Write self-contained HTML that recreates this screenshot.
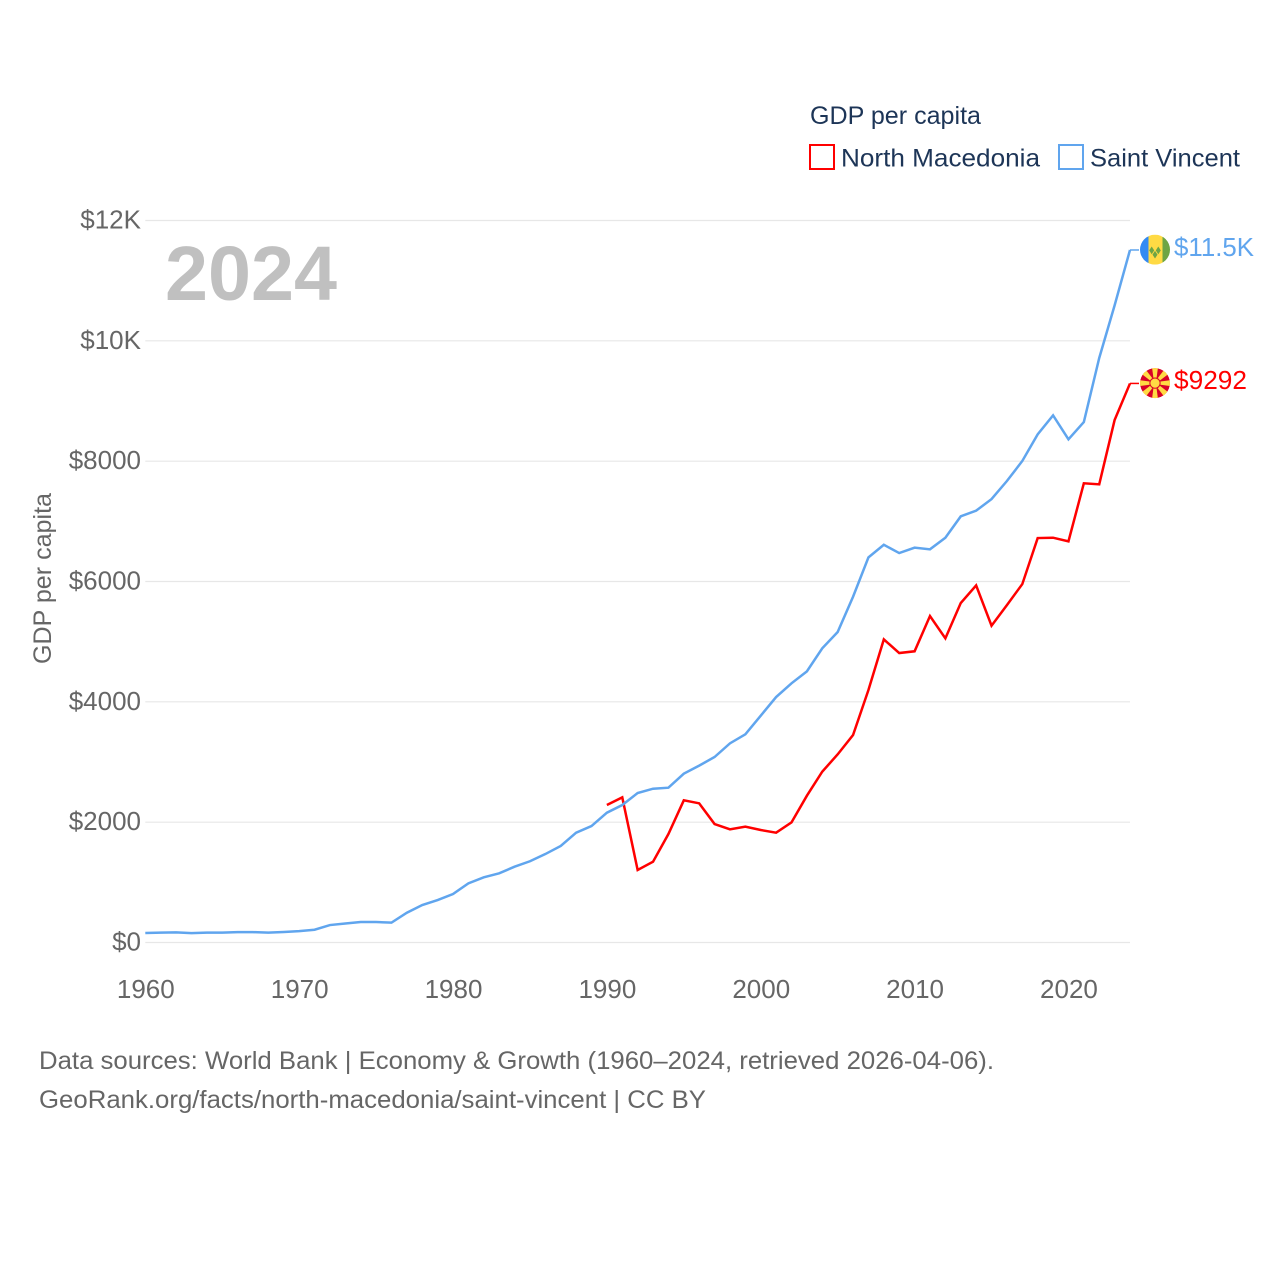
<!DOCTYPE html>
<html lang="en">
<head>
<meta charset="utf-8">
<title>GDP per capita: North Macedonia and Saint Vincent</title>
<style>
  html, body { margin: 0; padding: 0; background: #fff; }
  svg { display: block; font-family: "Liberation Sans", sans-serif; }
</style>
</head>
<body>
<svg id="chart" xmlns="http://www.w3.org/2000/svg" width="1280" height="1280" viewBox="0 0 1280 1280">
  <rect width="1280" height="1280" fill="#fff"/>

  <g id="grid"></g>
  <g id="y-ticks"></g>
  <g id="x-ticks"></g>

  <text transform="translate(51 578.5) rotate(-90)" font-size="25" fill="#666" text-anchor="middle" textLength="171" lengthAdjust="spacingAndGlyphs">GDP per capita</text>

  <text x="165" y="300" font-size="77" font-weight="bold" fill="#c0c0c0" textLength="172" lengthAdjust="spacingAndGlyphs">2024</text>

  <g id="series"></g>

  <g>
    <text x="810" y="124" font-size="25" fill="#1d3557" textLength="171" lengthAdjust="spacingAndGlyphs">GDP per capita</text>
    <g>
      <rect x="810" y="145" width="24" height="24" fill="#fff" stroke="#ff0000" stroke-width="2"/>
      <text x="841" y="166.5" font-size="25" fill="#1d3557" textLength="199" lengthAdjust="spacingAndGlyphs">North Macedonia</text>
    </g>
    <g>
      <rect x="1059" y="145" width="24" height="24" fill="#fff" stroke="#60a5ee" stroke-width="2"/>
      <text x="1090" y="166.5" font-size="25" fill="#1d3557" textLength="150" lengthAdjust="spacingAndGlyphs">Saint Vincent</text>
    </g>
  </g>

  <defs>
    <clipPath id="flag-clip"><circle cx="0" cy="0" r="15"/></clipPath>
  </defs>

  <g id="flag-vc">
    <g clip-path="url(#flag-clip)">
      <rect x="-15" y="-15" width="8.5" height="30" fill="#338af3"/>
      <rect x="-6.5" y="-15" width="14" height="30" fill="#ffda44"/>
      <rect x="7.5" y="-15" width="8" height="30" fill="#6da544"/>
      <polygon points="-3.3,-3.2 -0.8,0.7 -3.3,4.6 -5.8,0.7" fill="#6da544"/>
      <polygon points="3.3,-3.2 5.8,0.7 3.3,4.6 0.8,0.7" fill="#6da544"/>
      <polygon points="0,1.2 2.5,5 0,8.8 -2.5,5" fill="#6da544"/>
    </g>
  </g>

  <g id="flag-mk">
    <g clip-path="url(#flag-clip)">
      <circle r="15" fill="#d80027"/>
      <g fill="#ffda44">
        <polygon points="-3,-16 3,-16 0.9,0 -0.9,0"/>
        <polygon points="-3,-16 3,-16 0.9,0 -0.9,0" transform="rotate(45)"/>
        <polygon points="-3,-16 3,-16 0.9,0 -0.9,0" transform="rotate(90)"/>
        <polygon points="-3,-16 3,-16 0.9,0 -0.9,0" transform="rotate(135)"/>
        <polygon points="-3,-16 3,-16 0.9,0 -0.9,0" transform="rotate(180)"/>
        <polygon points="-3,-16 3,-16 0.9,0 -0.9,0" transform="rotate(225)"/>
        <polygon points="-3,-16 3,-16 0.9,0 -0.9,0" transform="rotate(270)"/>
        <polygon points="-3,-16 3,-16 0.9,0 -0.9,0" transform="rotate(315)"/>
      </g>
      <circle r="5.6" fill="#d80027"/>
      <circle r="4.6" fill="#ffda44"/>
    </g>
  </g>

  <text id="label-vc" x="1174" font-size="26" fill="#60a5ee" textLength="80" lengthAdjust="spacingAndGlyphs">$11.5K</text>
  <text id="label-mk" x="1174" font-size="26" fill="#ff0000" textLength="73" lengthAdjust="spacingAndGlyphs">$9292</text>

  <g>
    <text x="39" y="1069" font-size="25" fill="#666" textLength="955" lengthAdjust="spacingAndGlyphs">Data sources: World Bank | Economy &amp; Growth (1960–2024, retrieved 2026-04-06).</text>
    <text x="39" y="1108" font-size="25" fill="#666" textLength="667" lengthAdjust="spacingAndGlyphs">GeoRank.org/facts/north-macedonia/saint-vincent | CC BY</text>
  </g>
</svg>

<script>
const yTickValues = [0, 2000, 4000, 6000, 8000, 10000, 12000];
const yTickLabels = ["$0", "$2000", "$4000", "$6000", "$8000", "$10K", "$12K"];
const xTickYears = [1960, 1970, 1980, 1990, 2000, 2010, 2020];

const vincentStartYear = 1960;
const vincentValues = [
  158, 165, 168, 155, 165, 165, 172, 172, 165, 175,
  190, 212, 290, 315, 340, 340, 330, 495, 623, 706,
  806, 984, 1083, 1150, 1260, 1350, 1470, 1604, 1825, 1936,
  2157, 2285, 2485, 2556, 2573, 2806, 2940, 3083, 3310, 3460,
  3770, 4080, 4308, 4507, 4890, 5160, 5747, 6400, 6610, 6473,
  6562, 6535, 6728, 7083, 7177, 7370, 7670, 8003, 8446, 8762,
  8363, 8650, 9715, 10590, 11510
];

const macedoniaStartYear = 1990;
const macedoniaValues = [
  2285, 2413, 1205, 1343, 1803, 2363, 2313, 1969, 1881, 1925,
  1870, 1825, 1997, 2440, 2840, 3127, 3448, 4196, 5038, 4811,
  4840, 5426, 5055, 5642, 5935, 5265, 5608, 5957, 6722, 6728,
  6667, 7632, 7615, 8683, 9292
];

const SVGNS = "http://www.w3.org/2000/svg";
const xLeft = 145.3, xRight = 1130, yBottom = 942.5, yTop = 220.5;
const yearMin = 1960, yearMax = 2024, valueMax = 12000;

function xScale(year) {
  return xLeft + (year - yearMin) / (yearMax - yearMin) * (xRight - xLeft);
}
function yScale(value) {
  return yBottom - value / valueMax * (yBottom - yTop);
}
function make(tag, attrs) {
  const el = document.createElementNS(SVGNS, tag);
  for (const k in attrs) el.setAttribute(k, attrs[k]);
  return el;
}

const gridGroup = document.getElementById("grid");
const yGroup = document.getElementById("y-ticks");
const xGroup = document.getElementById("x-ticks");
const seriesGroup = document.getElementById("series");

yTickValues.forEach(function (v, i) {
  const line = make("line", {
    x1: xLeft, x2: xRight, y1: yScale(v), y2: yScale(v),
    stroke: "#e7e7e7", "stroke-width": 1.2
  });
  
  
  gridGroup.appendChild(line);

  const label = make("text", {
    x: 141, y: yScale(v) + 8, "text-anchor": "end", "font-size": 26, fill: "#666"
  });
  
  
  label.textContent = yTickLabels[i];
  yGroup.appendChild(label);
});

xTickYears.forEach(function (year) {
  const label = make("text", {
    x: xScale(year) + 0.5, y: 998, "text-anchor": "middle", "font-size": 26, fill: "#666"
  });
  
  
  label.textContent = year;
  xGroup.appendChild(label);
});

function linePoints(startYear, values) {
  return values.map(function (v, i) {
    return xScale(startYear + i).toFixed(2) + "," + yScale(v).toFixed(2);
  }).join(" ");
}

const macedoniaLine = make("polyline", {
  points: linePoints(macedoniaStartYear, macedoniaValues),
  fill: "none", stroke: "#ff0000", "stroke-width": 2.5
});


seriesGroup.appendChild(macedoniaLine);

const vincentLine = make("polyline", {
  points: linePoints(vincentStartYear, vincentValues),
  fill: "none", stroke: "#60a5ee", "stroke-width": 2.5
});


seriesGroup.appendChild(vincentLine);

const vincentEndY = yScale(vincentValues[vincentValues.length - 1]);
const macedoniaEndY = yScale(macedoniaValues[macedoniaValues.length - 1]);

const vincentConnector = make("line", {
  x1: xRight, x2: 1139, y1: vincentEndY, y2: vincentEndY, stroke: "#60a5ee", "stroke-width": 1.5
});


seriesGroup.appendChild(vincentConnector);

const macedoniaConnector = make("line", {
  x1: xRight, x2: 1139, y1: macedoniaEndY, y2: macedoniaEndY, stroke: "#ff0000", "stroke-width": 1.5
});


seriesGroup.appendChild(macedoniaConnector);

document.getElementById("flag-vc").setAttribute("transform", "translate(1155 " + (vincentEndY - 0.3) + ")");
document.getElementById("flag-mk").setAttribute("transform", "translate(1155 " + (macedoniaEndY - 0.3) + ")");
document.getElementById("label-vc").setAttribute("y", vincentEndY + 6);
document.getElementById("label-mk").setAttribute("y", macedoniaEndY + 5.5);
</script>
</body>
</html>
